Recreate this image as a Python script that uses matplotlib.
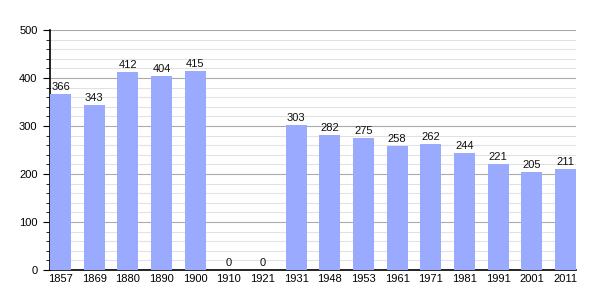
import matplotlib
matplotlib.use("Agg")
import matplotlib.pyplot as plt
import numpy as np

years = ["1857", "1869", "1880", "1890", "1900", "1910", "1921", "1931", "1948",
         "1953", "1961", "1971", "1981", "1991", "2001", "2011"]
population = [366, 343, 412, 404, 415, 0, 0, 303, 282, 275, 258, 262, 244, 221, 205, 211]

plt.rcParams['font.family'] = ['Liberation Sans', 'DejaVu Sans']
fig = plt.figure(figsize=(6.05, 3.0), dpi=100)
ax = fig.add_axes([50/605, 30/300, 526/605, 240/300])

x = np.arange(len(years))
w = 0.62
ax.bar(x, population, width=w, color="#99aaff", zorder=3)
for xi, v in zip(x, population):
    ax.text(xi, v + 4, str(v), ha="center", va="bottom", fontsize=8, color="#111111", zorder=4)

ax.set_xlim(-w/2, len(years) - 1 + w/2)
ax.set_ylim(0, 500)
ax.set_yticks(np.arange(0, 501, 100))
ax.set_yticks(np.arange(0, 501, 20), minor=True)
ax.grid(axis="y", which="major", color="#aaaaaa", linewidth=0.8, zorder=1)
ax.grid(axis="y", which="minor", color="#e2e2e2", linewidth=0.8, zorder=0)
ax.set_xticks(x)
ax.set_xticklabels(years)
ax.tick_params(axis="x", length=0, labelsize=8, pad=3)
ax.tick_params(axis="y", which="major", length=5, labelsize=8, direction="out", pad=4)
ax.tick_params(axis="y", which="minor", length=3, direction="out")
for s in ["top", "right"]:
    ax.spines[s].set_visible(False)
ax.spines["left"].set_linewidth(1.2)
ax.spines["bottom"].set_linewidth(1.2)
fig.savefig("out.png", dpi=100)
